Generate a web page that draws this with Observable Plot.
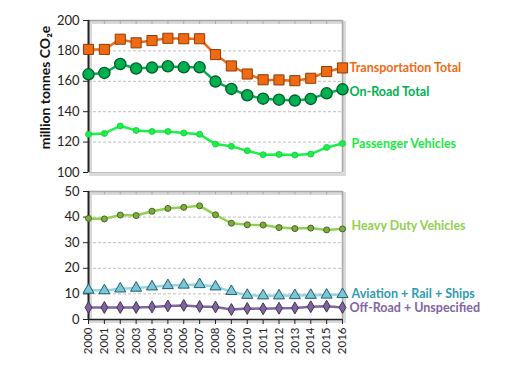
<!DOCTYPE html>
<html>
<head>
<meta charset="utf-8">
<script src="https://cdn.jsdelivr.net/npm/d3@7"></script>
<script src="https://cdn.jsdelivr.net/npm/@observablehq/plot@0.6"></script>
<style>
  html, body { margin: 0; padding: 0; background: #fff; }
  #chart { position: relative; width: 519px; height: 367px; font-family: Lato, "Open Sans", sans-serif; }
  #chart svg { position: absolute; left: 0; overflow: visible; }
</style>
</head>
<body>
<div id="chart"></div>
<script>
const years = [2000,2001,2002,2003,2004,2005,2006,2007,2008,2009,2010,2011,2012,2013,2014,2015,2016];
const transportationTotal = [181,181,187.7,185.3,186.8,188.3,188,188,177.6,170.1,164.8,161,160.9,160.4,162,166.4,168.8];
const onRoadTotal = [164.6,165.5,171.4,168.4,169,169.9,169.2,169.2,159.8,155,150.8,148.6,147.9,147.3,148.4,152.1,154.7];
const passengerVehicles = [125.1,125.7,130.6,127.7,127,127,126,125.1,118.7,117.2,114.3,111.7,111.9,111.5,112.1,116.5,119.1];
const heavyDutyVehicles = [39.5,39.3,40.8,40.6,42.3,43.4,43.8,44.4,40.9,37.6,37,36.9,35.9,35.5,35.7,35,35.4];
const aviationRailShips = [11.5,11.3,12,12.3,12.8,13.3,13.5,13.7,12.8,11,9.5,9.3,9.3,9.4,9.5,9.6,9.8];
const offRoadUnspecified = [4.7,4.7,4.7,4.7,4.9,5.3,5.5,5.1,4.9,3.9,4.3,4.2,4.4,4.5,5.0,5.2,4.7];
const topTicks = [100,120,140,160,180,200];
const bottomTicks = [0,10,20,30,40,50];
const seriesNames = ["Transportation Total","On-Road Total","Passenger Vehicles","Heavy Duty Vehicles","Aviation + Rail + Ships","Off-Road + Unspecified"];
const yLabel = "million tonnes CO₂e";

const rows = (vals) => years.map((y, i) => ({year: y, value: vals[i]}));
const last = (vals) => [{year: 2016, value: vals[vals.length - 1]}];
const FONT = "Lato, 'Open Sans', sans-serif";

function frameMarks(yMin, yMax, ticks) {
  return [
    Plot.frame({stroke: "#d9d9d9", strokeWidth: 3, dx: 2, dy: 2}),
    Plot.ruleY(ticks.filter(t => t > yMin && t < yMax), {stroke: "#bfbfbf", strokeDasharray: "3,2", strokeWidth: 1}),
    Plot.ruleY([yMax], {stroke: "#a6a6a6", strokeWidth: 1.5}),
    Plot.ruleX([2016], {stroke: "#a6a6a6", strokeWidth: 1.5}),
    Plot.ruleX(years.slice(1, -1), {x: d => d, y1: yMax, y2: yMax - (yMax - yMin) * 0.025, stroke: "#a6a6a6"})
  ];
}

const topPlot = Plot.plot({
  width: 519, height: 180,
  marginLeft: 88, marginRight: 177, marginTop: 20, marginBottom: 8,
  style: {fontFamily: FONT, overflow: "visible"},
  x: {domain: [2000, 2016], axis: null},
  y: {domain: [100, 200], axis: null},
  marks: [
    ...frameMarks(100, 200, topTicks),
    Plot.ruleY([100], {stroke: "#bfbfbf", strokeWidth: 1}),
    Plot.axisY({ticks: topTicks, label: null, tickSize: 5, tickPadding: 4, fontSize: 13, stroke: "#222", color: "#222"}),
    Plot.ruleX([2000], {stroke: "#222", strokeWidth: 2}),
    Plot.line(rows(passengerVehicles), {x: "year", y: "value", stroke: "#1af04a", strokeWidth: 2.5}),
    Plot.dot(rows(passengerVehicles), {x: "year", y: "value", r: 3, fill: "#1af04a", stroke: "#12c93a", strokeWidth: 0.8}),
    Plot.line(rows(onRoadTotal), {x: "year", y: "value", stroke: "#00b050", strokeWidth: 2.5}),
    Plot.dot(rows(onRoadTotal), {x: "year", y: "value", r: 5.6, fill: "#00b050", stroke: "#005a26", strokeWidth: 1.3}),
    Plot.line(rows(transportationTotal), {x: "year", y: "value", stroke: "#f06a14", strokeWidth: 2.5}),
    Plot.dot(rows(transportationTotal), {x: "year", y: "value", symbol: "square", r: 5.7, fill: "#f06a14", stroke: "#8a3e08", strokeWidth: 1}),
    Plot.text(last(transportationTotal), {x: "year", y: "value", text: () => seriesNames[0], dx: 7, dy: 0, textAnchor: "start", fill: "#f06a14", fontWeight: "bold", fontSize: 12.5}),
    Plot.text(last(onRoadTotal), {x: "year", y: "value", text: () => seriesNames[1], dx: 7, dy: 3, textAnchor: "start", fill: "#00b050", fontWeight: "bold", fontSize: 12.5}),
    Plot.text(last(passengerVehicles), {x: "year", y: "value", text: () => seriesNames[2], dx: 9, dy: 1, textAnchor: "start", fill: "#1ae846", fontWeight: "bold", fontSize: 12.5}),
    Plot.text([0], {frameAnchor: "left", dx: -43, dy: -9, rotate: -90, textAnchor: "middle", text: () => yLabel, fill: "#111", fontWeight: "bold", fontSize: 14})
  ]
});
topPlot.style.top = "0px";

const bottomPlot = Plot.plot({
  width: 519, height: 187,
  marginLeft: 88, marginRight: 177, marginTop: 11, marginBottom: 48,
  style: {fontFamily: FONT, overflow: "visible"},
  x: {domain: [2000, 2016], axis: null},
  y: {domain: [0, 50], axis: null},
  marks: [
    ...frameMarks(0, 50, bottomTicks),
    Plot.axisY({ticks: bottomTicks, label: null, tickSize: 5, tickPadding: 4, fontSize: 13, stroke: "#222", color: "#222"}),
    Plot.axisX({ticks: years, label: null, tickFormat: d => String(d), tickSize: 5, tickPadding: 3, tickRotate: -90, fontSize: 11.5, stroke: "#222", color: "#222"}),
    Plot.ruleY([0], {stroke: "#222", strokeWidth: 1.5}),
    Plot.ruleX([2000], {stroke: "#222", strokeWidth: 2}),
    Plot.line(rows(heavyDutyVehicles), {x: "year", y: "value", stroke: "#92d050", strokeWidth: 2.5}),
    Plot.dot(rows(heavyDutyVehicles), {x: "year", y: "value", r: 3, fill: "#77b03c", stroke: "#4f6228", strokeWidth: 1}),
    Plot.line(rows(aviationRailShips), {x: "year", y: "value", stroke: "#93d6e6", strokeWidth: 2.5}),
    Plot.dot(rows(aviationRailShips), {x: "year", y: "value", symbol: "triangle", r: 4.1, fill: "#7cc6d8", stroke: "#215f70", strokeWidth: 1}),
    Plot.line(rows(offRoadUnspecified), {x: "year", y: "value", stroke: "#8064a2", strokeWidth: 2.5}),
    Plot.dot(rows(offRoadUnspecified), {x: "year", y: "value", symbol: "diamond", r: 3.6, fill: "#8064a2", stroke: "#403152", strokeWidth: 1}),
    Plot.text(last(heavyDutyVehicles), {x: "year", y: "value", text: () => seriesNames[3], dx: 9, dy: -3, textAnchor: "start", fill: "#92d050", fontWeight: "bold", fontSize: 12.5}),
    Plot.text(last(aviationRailShips), {x: "year", y: "value", text: () => seriesNames[4], dx: 9, dy: 0, textAnchor: "start", fill: "#2e9bb3", fontWeight: "bold", fontSize: 12.5}),
    Plot.text(last(offRoadUnspecified), {x: "year", y: "value", text: () => seriesNames[5], dx: 7, dy: 1, textAnchor: "start", fill: "#8064a2", fontWeight: "bold", fontSize: 12.5})
  ]
});
bottomPlot.style.top = "180px";

const chart = document.getElementById("chart");
chart.appendChild(topPlot);
chart.appendChild(bottomPlot);
</script>
</body>
</html>
